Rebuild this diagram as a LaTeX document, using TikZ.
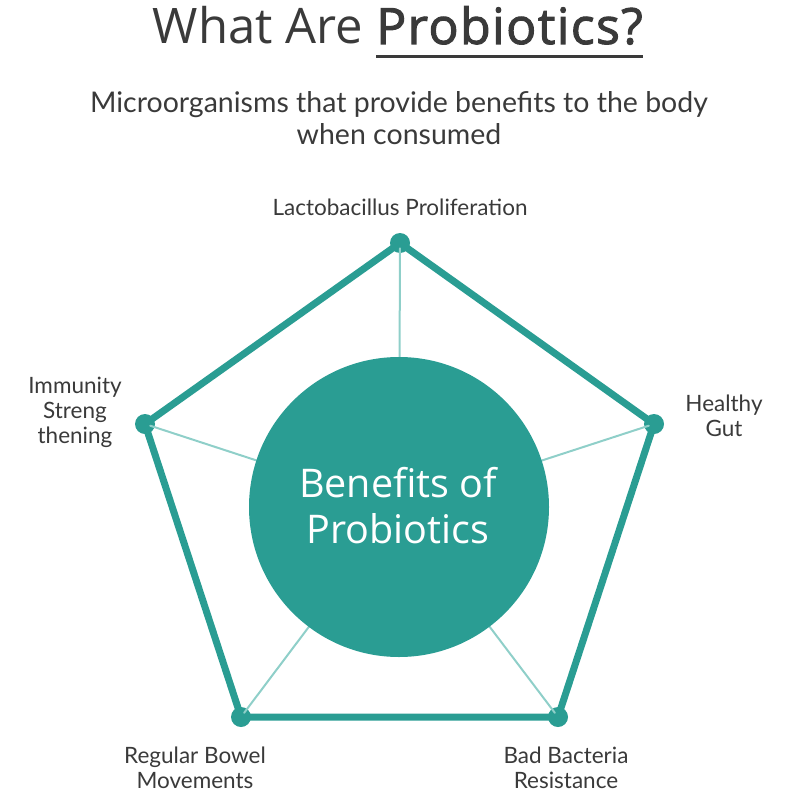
\documentclass[tikz,border=0pt]{standalone}
\usepackage{fontspec}
\setmainfont{Open Sans}
\newfontfamily\latofont{Lato}
\newfontfamily\semib[FakeBold=2,LetterSpace=2.8]{Open Sans}
\definecolor{teal1}{HTML}{2A9D93}
\definecolor{spoke}{HTML}{8FCFC9}
\definecolor{txt}{HTML}{3A3A3A}
\begin{document}
\begin{tikzpicture}[x=1pt,y=-1pt,
  label/.style={font=\latofont\fontsize{22.5}{25}\selectfont, text=txt, align=center, inner sep=0pt},
  dot/.style={circle, fill=teal1, minimum size=20pt, inner sep=0pt},
  spokeline/.style={spoke, line width=2pt},
  edge/.style={teal1, line width=7pt, line join=round}]
\useasboundingbox (0,0) rectangle (800,800);
% title
\node[anchor=base west, inner sep=0pt, text=txt, font=\semib\fontsize{50}{60}\selectfont] (pb) at (376,44) {Probiotics?};
\node[anchor=base east, inner sep=0pt, text=txt, font=\fontsize{49}{60}\selectfont] (wa) at (pb.base west) {What Are\ \mbox{}};
\draw[txt, line width=3pt] ([yshift=-13pt]pb.base west) -- ([yshift=-13pt]pb.base east);
% subtitle
\node[inner sep=0pt, text=txt, align=center, font=\latofont\fontsize{28.5}{32}\selectfont, anchor=base] (sub) at (399,144) {Microorganisms that provide benefits to the body\\when consumed};
% vertices
\coordinate (c) at (399,507);
\node[dot] (v1) at (400,243) {};
\node[dot] (v2) at (654,424) {};
\node[dot] (v3) at (558,717) {};
\node[dot] (v4) at (241,717) {};
\node[dot] (v5) at (145,424) {};
\foreach \v in {v1,v2,v3,v4,v5} \draw[spokeline] (\v.center) -- (c);
\draw[edge] (v1.center) -- (v2.center) -- (v3.center) -- (v4.center) -- (v5.center) -- cycle;
\node[circle, fill=teal1, minimum size=300pt, inner sep=0pt] (hub) at (c) {};
\node[inner sep=0pt, text=white, align=center, font=\fontsize{39.5}{46}\selectfont, anchor=base] (ht) at (398,543) {Benefits of\\Probiotics};
% labels
\node[label, anchor=base] (l1) at (400,215) {Lactobacillus Proliferation};
\node[label, anchor=base] (l2) at (724,436) {Healthy\\Gut};
\node[label, anchor=base] (l3) at (566,788) {Bad Bacteria\\Resistance};
\node[label, anchor=base] (l4) at (195,788) {Regular Bowel\\Movements};
\node[label, anchor=base] (l5) at (75,443) {Immunity\\Streng\\thening};
\end{tikzpicture}
\end{document}
